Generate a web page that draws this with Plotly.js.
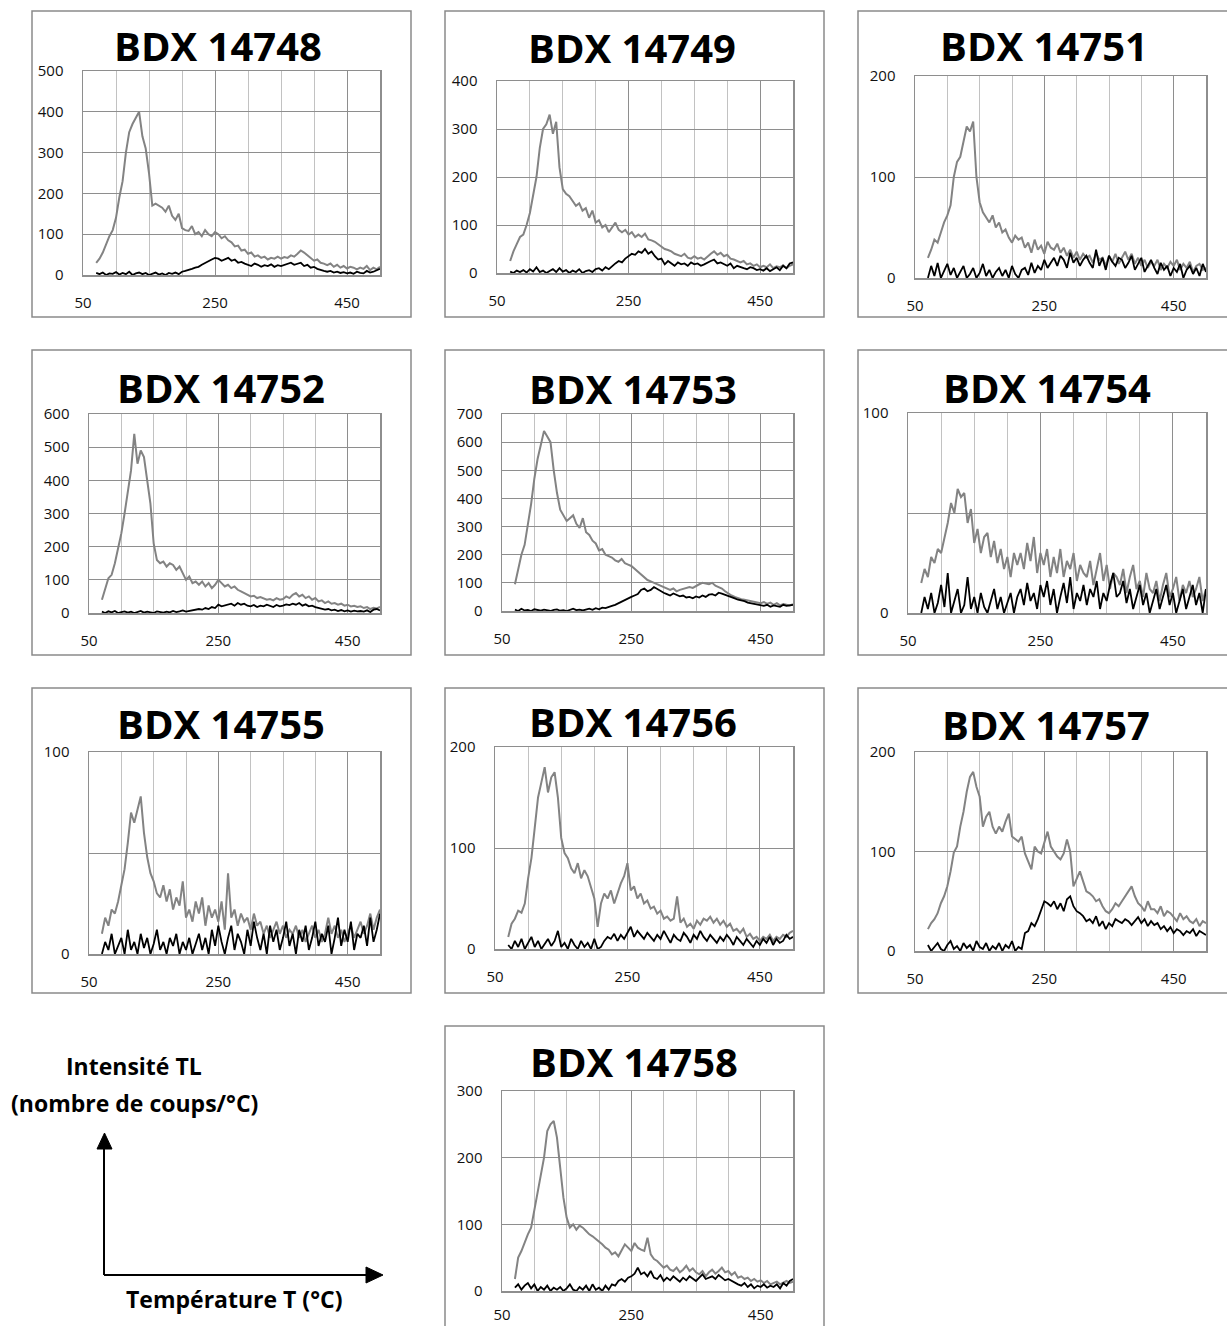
<!DOCTYPE html>
<html><head><meta charset="utf-8">
<script src="https://cdn.plot.ly/plotly-3.0.1.min.js"></script>
<style>html,body{margin:0;padding:0;background:#fff;}#chart{width:1227px;height:1326px;}</style>
</head><body><div id="chart"></div>
<script>
// Temperature (°C)
const temps = [70,75,80,85,90,95,100,105,110,115,120,125,130,135,140,145,150,155,160,165,
170,175,180,185,190,195,200,205,210,215,220,225,230,235,240,245,250,255,260,265,
270,275,280,285,290,295,300,305,310,315,320,325,330,335,340,345,350,355,360,365,
370,375,380,385,390,395,400,405,410,415,420,425,430,435,440,445,450,455,460,465,
470,475,480,485,490,495,500];

// TL intensity (counts/°C) - grey curve and black curve of each sample
const g14748 = [30,40,55,75,95,110,140,190,230,300,
350,370,385,400,340,310,250,170,175,170,
165,155,170,145,135,150,115,110,108,120,
100,105,95,110,100,95,105,100,90,95,
85,80,70,72,60,62,52,55,45,48,
42,45,38,42,40,45,40,44,42,48,
45,52,60,55,48,40,35,38,30,28,
24,28,20,25,18,22,16,20,18,14,
18,15,22,12,18,14,20];
const b14748 = [5,2,6,0,4,3,7,1,5,2,
8,0,4,6,2,5,0,3,6,1,
4,0,5,3,6,2,8,10,12,15,
18,20,25,30,35,38,42,40,35,38,
42,35,38,30,32,28,25,22,28,25,
20,24,22,26,20,24,22,25,28,30,
25,28,30,22,25,18,20,15,12,10,
8,10,6,8,5,7,4,6,3,8,
5,4,10,6,8,12,15];

const g14749 = [25,45,60,75,80,100,125,165,200,260,
300,310,330,290,315,220,175,165,160,150,
140,145,130,135,115,130,105,110,95,100,
85,95,105,90,85,90,80,85,75,80,
75,82,70,68,65,60,55,50,48,45,
40,38,35,40,32,30,35,30,32,28,
35,40,45,38,42,35,38,30,28,25,
22,25,18,20,15,18,12,15,12,18,
10,14,12,16,10,15,18];
const b14749 = [3,0,5,2,6,1,8,3,12,2,
5,0,4,8,2,10,3,6,0,5,
2,8,0,4,6,2,8,10,5,12,
8,15,20,25,22,30,35,40,38,45,
42,50,40,45,35,28,30,18,25,20,
15,22,18,20,15,22,18,20,15,18,
22,25,28,20,22,18,15,20,10,15,
12,10,8,12,10,6,8,5,10,4,
8,12,6,15,10,20,22];

const g14751 = [20,28,38,35,45,55,62,72,100,115,
120,135,150,145,155,100,75,65,60,55,
62,50,55,45,48,40,35,42,38,40,
30,35,25,38,28,32,24,36,30,28,
34,25,30,22,28,20,26,18,24,20,
22,15,25,18,20,12,22,16,24,14,
20,26,18,24,14,20,12,18,10,16,
12,18,8,14,10,16,12,18,8,14,
10,16,6,12,14,8,10];
const b14751 = [0,12,2,15,0,8,14,3,10,0,
6,12,0,4,10,0,5,14,2,8,
0,6,10,2,8,0,12,4,0,8,
10,3,15,5,12,8,18,10,15,20,
12,22,18,10,25,15,20,12,18,22,
15,10,28,12,20,8,22,16,12,20,
18,10,15,22,8,14,20,6,12,18,
10,4,15,8,12,2,10,6,14,0,
8,12,4,10,2,14,6];

const g14752 = [40,70,105,115,150,195,240,300,370,430,
540,450,490,470,400,330,210,160,150,155,
140,150,145,130,140,120,100,110,90,95,
85,95,80,90,75,85,100,90,80,85,
75,80,70,65,60,55,50,52,45,48,
45,40,42,38,45,40,42,50,45,55,
60,50,55,45,50,40,45,35,38,30,
35,28,30,25,28,22,25,20,22,18,
20,15,18,12,16,14,18];
const b14752 = [4,0,5,2,6,0,3,5,1,4,
0,3,6,1,4,2,0,5,3,1,
4,2,6,3,5,8,4,6,8,10,
12,10,15,12,18,15,25,20,22,25,
28,22,30,25,28,22,20,24,18,22,
20,25,22,18,24,20,22,26,24,28,
25,30,22,26,20,22,18,15,12,10,
12,8,10,6,9,5,8,4,7,5,
6,4,8,3,10,12,8];

const g14753 = [95,150,200,235,300,380,470,540,590,640,
620,600,500,420,360,340,320,330,340,310,
295,330,280,270,250,240,215,220,200,195,
190,180,175,185,170,165,160,150,140,130,
120,110,105,100,95,90,85,80,75,80,
70,75,78,80,85,82,90,95,100,98,
95,100,90,85,80,70,62,55,50,45,
42,40,38,35,32,30,28,32,25,30,
22,28,20,25,22,20,24];
const b14753 = [5,0,8,2,4,0,6,3,1,5,
2,0,4,6,1,3,0,5,8,3,
5,2,6,8,4,10,6,12,10,15,
18,22,28,32,40,45,50,55,60,75,
80,70,75,85,78,70,65,60,55,62,
58,52,55,48,50,45,52,48,55,50,
58,60,55,65,62,58,55,50,45,40,
38,35,30,28,25,22,20,18,22,15,
20,18,15,22,18,20,22];

const g14754 = [15,22,18,28,25,32,30,38,45,55,
50,62,58,60,45,52,35,42,30,38,
40,28,36,25,32,22,28,18,30,24,
30,22,35,26,38,20,30,24,32,18,
28,20,32,18,26,22,30,16,24,20,
18,26,14,22,30,16,24,12,20,18,
14,22,10,18,24,12,16,8,20,12,
10,16,6,14,20,8,12,18,6,14,
10,16,8,12,18,6,12];
const b14754 = [0,8,2,10,0,5,14,3,20,0,
6,12,0,4,18,2,8,0,10,3,
0,6,12,2,8,0,5,10,0,8,
12,4,15,6,10,2,14,8,16,4,
12,0,8,15,5,18,2,10,6,14,
4,12,8,16,2,10,6,14,20,8,
10,16,5,12,2,8,14,4,10,0,
6,12,2,8,14,4,10,0,6,12,
2,8,14,4,10,0,12];

const g14755 = [10,18,14,22,20,26,34,42,55,70,
65,72,78,60,48,40,36,30,28,34,
26,32,22,28,24,36,18,22,16,26,
20,28,14,24,18,22,16,26,12,40,
18,22,14,20,16,18,12,20,14,16,
10,14,8,12,16,10,14,8,12,10,
14,8,12,6,10,14,8,12,6,10,
18,10,14,8,12,6,10,14,8,12,
16,10,14,20,12,18,22];
const b14755 = [0,6,2,10,0,4,8,0,12,2,
6,0,10,3,8,0,5,12,2,6,
0,8,4,10,0,6,2,8,0,5,
10,2,8,0,12,4,14,6,0,8,
14,2,10,6,0,12,4,16,8,2,
10,0,14,6,12,2,8,16,4,10,
0,12,6,14,2,8,16,4,10,6,
14,0,8,18,4,12,6,16,2,10,
8,14,4,18,6,12,20];

const g14756 = [12,25,30,38,36,45,70,90,120,150,
165,180,155,170,175,150,110,95,90,80,
75,85,70,78,72,60,50,22,45,55,
50,58,45,55,65,72,85,58,62,50,
55,45,48,40,42,35,38,30,32,28,
30,52,26,30,22,25,20,28,24,30,
28,32,26,30,24,28,22,25,18,20,
16,20,12,15,10,12,8,12,10,14,
8,12,10,14,12,16,18];
const b14756 = [4,0,8,2,10,0,6,12,2,8,
0,5,10,3,8,18,2,6,0,10,
4,0,8,2,6,0,10,0,2,8,
12,10,15,8,14,10,16,22,12,18,
14,10,16,12,8,14,10,18,12,6,
14,10,8,16,12,6,14,10,18,12,
8,14,10,6,12,8,14,10,4,12,
8,4,10,6,2,8,4,10,6,12,
4,10,6,8,14,10,12];

const g14757 = [22,28,32,38,48,55,65,80,99,105,
125,140,160,175,180,165,155,125,135,140,
125,118,125,120,130,138,115,112,110,115,
98,90,82,105,100,98,110,120,105,100,
95,92,98,112,100,65,72,80,70,60,
58,55,50,52,45,40,38,42,48,45,
50,55,60,65,55,48,45,40,50,42,
42,38,45,35,40,38,34,30,38,32,
35,30,28,32,25,30,28];
const b14757 = [6,0,4,8,2,0,6,10,2,5,
0,8,3,6,0,10,4,2,8,0,
5,2,8,0,6,3,10,0,4,2,
18,20,28,25,32,40,50,48,45,50,
42,48,40,52,55,45,40,38,35,30,
32,28,35,25,30,22,28,25,32,30,
28,32,30,26,30,34,28,32,25,30,
26,28,22,25,20,24,18,22,20,16,
20,18,22,15,20,18,16];

const g14758 = [18,50,60,74,85,95,120,150,175,200,
240,250,255,230,185,140,110,95,100,92,
98,95,90,85,82,78,75,70,65,62,
55,58,52,60,70,65,60,72,65,62,
60,80,55,48,45,40,35,38,32,30,
35,28,32,38,30,34,28,25,30,22,
28,32,26,30,35,28,30,24,28,20,
22,18,20,15,18,14,16,12,15,10,
12,14,10,12,15,12,14];
const b14758 = [5,10,2,8,12,4,10,0,6,2,
8,0,5,2,6,0,4,10,2,0,
6,2,8,0,10,2,5,0,8,2,
10,8,15,18,14,20,22,26,35,25,
28,22,30,20,18,24,15,20,16,22,
18,14,20,16,22,18,15,20,25,18,
20,22,18,24,20,16,18,15,12,10,
8,12,6,10,4,8,6,10,5,8,
6,10,4,12,8,15,18];

const samples = ['BDX 14748','BDX 14749','BDX 14751','BDX 14752','BDX 14753',
                 'BDX 14754','BDX 14755','BDX 14756','BDX 14757','BDX 14758'];
const greyCurves = [g14748,g14749,g14751,g14752,g14753,g14754,g14755,g14756,g14757,g14758];
const blackCurves = [b14748,b14749,b14751,b14752,b14753,b14754,b14755,b14756,b14757,b14758];
const yMax = [500,400,200,600,700,100,100,200,200,300];
const xTickVals = [50,250,450];
const xLabelTexts = ['50','250','450'];

// ---------- layout (pixels) ----------
const W = 1227, H = 1326;
const plotBoxes = [ // left, right, top, bottom
  [83,380,71,275],[497,793,81,273],[915,1206,76,278],
  [89,380,414,613],[502,793,414,611],[908,1206,413,613],
  [89,380,752,954],[495,793,747,949],[915,1206,752,951],
  [502,793,1091,1291]];
const frames = [
  [32,11,411,317],[445,11,824,317],[858,11,1233,317],
  [32,350,411,655],[445,350,824,655],[858,350,1233,655],
  [32,688,411,993],[445,688,824,993],[858,688,1233,993],
  [445,1026,824,1332]];
const titlePos = [[218,46],[632,48],[1044,46],[221,387],[633,388],[1047,387],[221,724],[633,722],[1046,725],[634,1061]];
const gridStep = [100,100,100,100,100,50,50,100,100,100];
const zeroWidth = [2,3.5,2,2,3.5,2,2,2,2,2];
const xLabelGap = [13,13,13,13,13,13,13,13,13,9];

const px = x => x / W;
const py = y => 1 - y / H;
const FONT = 'Open Sans, Noto Sans, sans-serif';

const data = [];
const layout = {
  width: W, height: H,
  margin: {l:0, r:0, t:0, b:0},
  paper_bgcolor: '#fff', plot_bgcolor: '#fff',
  showlegend: false,
  shapes: [], annotations: []
};

for (let i = 0; i < samples.length; i++) {
  const n = i === 0 ? '' : String(i + 1);
  const xa = 'x' + n, ya = 'y' + n;
  const [L, R, T, B] = plotBoxes[i];
  const g = greyCurves[i], b = blackCurves[i];
  data.push({x: temps.slice(0, g.length), y: g, xaxis: xa, yaxis: ya, type: 'scatter', mode: 'lines',
             line: {color: '#838383', width: 2}, hoverinfo: 'skip'});
  data.push({x: temps.slice(0, b.length), y: b, xaxis: xa, yaxis: ya, type: 'scatter', mode: 'lines',
             line: {color: '#000', width: 1.8}, hoverinfo: 'skip'});
  layout['xaxis' + n] = {
    domain: [px(L), px(R)], anchor: ya, range: [50, 500],
    tickmode: 'array', tickvals: xTickVals, ticktext: xLabelTexts,
    showgrid: true, gridcolor: '#8e8e8e', gridwidth: 1,
    minor: {tickmode: 'linear', tick0: 50, dtick: 50, showgrid: true, gridcolor: '#c2c2c2', gridwidth: 1, ticks: ''},
    zeroline: false, showline: true, mirror: true, linecolor: '#8e8e8e', linewidth: 1.5,
    ticks: '', ticklabelstandoff: xLabelGap[i],
    tickfont: {family: FONT, size: 15, color: '#111'}, fixedrange: true
  };
  const yax = {
    domain: [py(B), py(T)], anchor: xa, range: [0, yMax[i]],
    tickmode: 'linear', tick0: 0, dtick: 100,
    showgrid: true, gridcolor: '#8e8e8e', gridwidth: 1,
    zeroline: true, zerolinecolor: '#8a8a8a', zerolinewidth: zeroWidth[i],
    showline: true, mirror: true, linecolor: '#8e8e8e', linewidth: 1.5,
    ticks: '', ticklabelstandoff: 15,
    tickfont: {family: FONT, size: 15, color: '#111'}, fixedrange: true
  };
  if (gridStep[i] !== 100) {
    yax.minor = {tickmode: 'linear', tick0: 0, dtick: gridStep[i], showgrid: true, gridcolor: '#8e8e8e', gridwidth: 1, ticks: ''};
  }
  layout['yaxis' + n] = yax;

  const [x0, y0, x1, y1] = frames[i];
  layout.shapes.push({type: 'rect', xref: 'paper', yref: 'paper', x0: px(x0), x1: px(x1), y0: py(y0), y1: py(y1),
                      line: {color: '#8a8a8a', width: 1.5}, fillcolor: 'rgba(0,0,0,0)', layer: 'below'});
  layout.annotations.push({xref: 'paper', yref: 'paper', x: px(titlePos[i][0]), y: py(titlePos[i][1]),
                           xanchor: 'center', yanchor: 'middle', showarrow: false,
                           text: '<b>' + samples[i] + '</b>', font: {family: FONT, size: 40, color: '#000'}});
}

// Axis key (bottom-left)
const arrow = {color: '#000', width: 2};
layout.shapes.push({type: 'line', xref: 'paper', yref: 'paper', x0: px(104), x1: px(104), y0: py(1275), y1: py(1146), line: arrow});
layout.shapes.push({type: 'line', xref: 'paper', yref: 'paper', x0: px(104), x1: px(369), y0: py(1275), y1: py(1275), line: arrow});
layout.shapes.push({type: 'path', xref: 'paper', yref: 'paper', fillcolor: '#000', line: {color: '#000', width: 1},
  path: `M ${px(97)} ${py(1149)} L ${px(104.5)} ${py(1133)} L ${px(112)} ${py(1149)} Z`});
layout.shapes.push({type: 'path', xref: 'paper', yref: 'paper', fillcolor: '#000', line: {color: '#000', width: 1},
  path: `M ${px(366)} ${py(1267)} L ${px(383)} ${py(1275)} L ${px(366)} ${py(1283)} Z`});
const keyFont = {family: FONT, size: 23, color: '#000'};
layout.annotations.push({xref: 'paper', yref: 'paper', x: px(134), y: py(1066), xanchor: 'center', yanchor: 'middle', showarrow: false,
  text: '<b>Intensité TL</b>', font: keyFont});
layout.annotations.push({xref: 'paper', yref: 'paper', x: px(134), y: py(1103), xanchor: 'center', yanchor: 'middle', showarrow: false,
  text: '<b>(nombre de coups/°C)</b>', font: keyFont});
layout.annotations.push({xref: 'paper', yref: 'paper', x: px(234), y: py(1299), xanchor: 'center', yanchor: 'middle', showarrow: false,
  text: '<b>Température T (°C)</b>', font: keyFont});

Plotly.newPlot('chart', data, layout, {staticPlot: true, displayModeBar: false});
</script>
</body></html>
